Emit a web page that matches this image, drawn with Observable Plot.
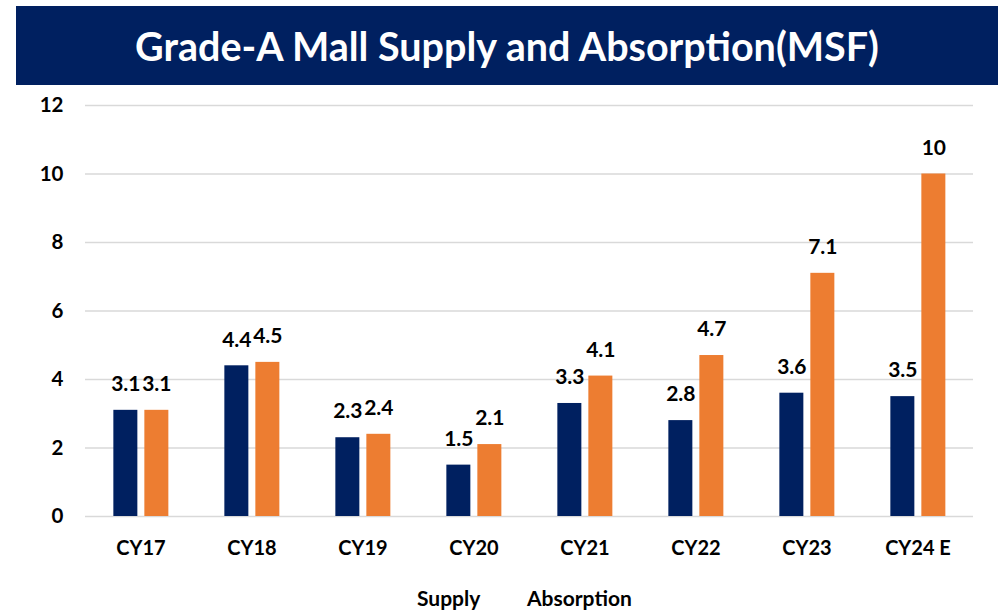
<!DOCTYPE html>
<html><head><meta charset="utf-8">
<script src="https://cdn.jsdelivr.net/npm/d3@7"></script>
<script src="https://cdn.jsdelivr.net/npm/@observablehq/plot@0.6"></script>
<style>
body{margin:0;background:#fff;font-family:Lato,sans-serif;}
#wrap{position:relative;width:998px;height:610px;overflow:hidden;background:#fff;}
#banner{position:absolute;left:16px;top:6px;width:982px;height:79px;background:#002060;color:#fff;font-weight:700;font-size:39.5px;display:flex;align-items:center;justify-content:center;}
#chart{position:absolute;left:0;top:86px;}
#legend{position:absolute;top:587px;left:0;width:998px;height:22px;font-weight:700;font-size:21px;line-height:1;color:#000;}
#legend span{position:absolute;top:0;}
</style></head>
<body>
<div id="wrap">
  <div id="banner">Grade-A Mall Supply and Absorption(MSF)</div>
  <div id="chart"></div>
  <div id="legend"><span style="left:417px">Supply</span><span style="left:527px">Absorption</span></div>
</div>
<script>
const categories = ["CY17","CY18","CY19","CY20","CY21","CY22","CY23","CY24 E"];
const seriesNames = ["Supply","Absorption"];
const supply = [3.1,4.4,2.3,1.5,3.3,2.8,3.6,3.5];
const absorption = [3.1,4.5,2.4,2.1,4.1,4.7,7.1,10];
const yTicks = [0,2,4,6,8,10,12];
const colors = ["#002060","#ED7D31"];

const data = categories.flatMap((c,i)=>[
  {cat:c, series:"Supply", value:supply[i]},
  {cat:c, series:"Absorption", value:absorption[i]}
]);

const chart = Plot.plot({
  width:998, height:480,
  marginLeft:82.65, marginRight:21.75, marginTop:19, marginBottom:50,
  style:{fontFamily:"Lato, sans-serif", fontWeight:700, fontSize:"20px", color:"#000", background:"transparent"},
  fx:{domain:categories, padding:0, label:null},
  x:{domain:seriesNames, paddingInner:0.21875, paddingOuter:0.8547, axis:null},
  y:{domain:[0,12], label:null},
  color:{domain:seriesNames, range:colors},
  marks:[
    Plot.gridY(yTicks,{stroke:"#d9d9d9", strokeOpacity:1, strokeWidth:1.6}),
    Plot.barY(data,{fx:"cat", x:"series", y:"value", fill:"series"}),
    Plot.text(data,{fx:"cat", x:"series", y:"value", text:d=>String(d.value), dy:-26, fontSize:21, fontWeight:700, fill:"#000"}),
    Plot.axisY(yTicks,{tickSize:0, tickPadding:22, fontSize:20.5, fontWeight:700, label:null}),
    Plot.axisFx({anchor:"bottom", tickSize:0, tickPadding:24, fontSize:20, fontWeight:700, label:null})
  ]
});
document.getElementById("chart").appendChild(chart);
</script>
</body></html>
